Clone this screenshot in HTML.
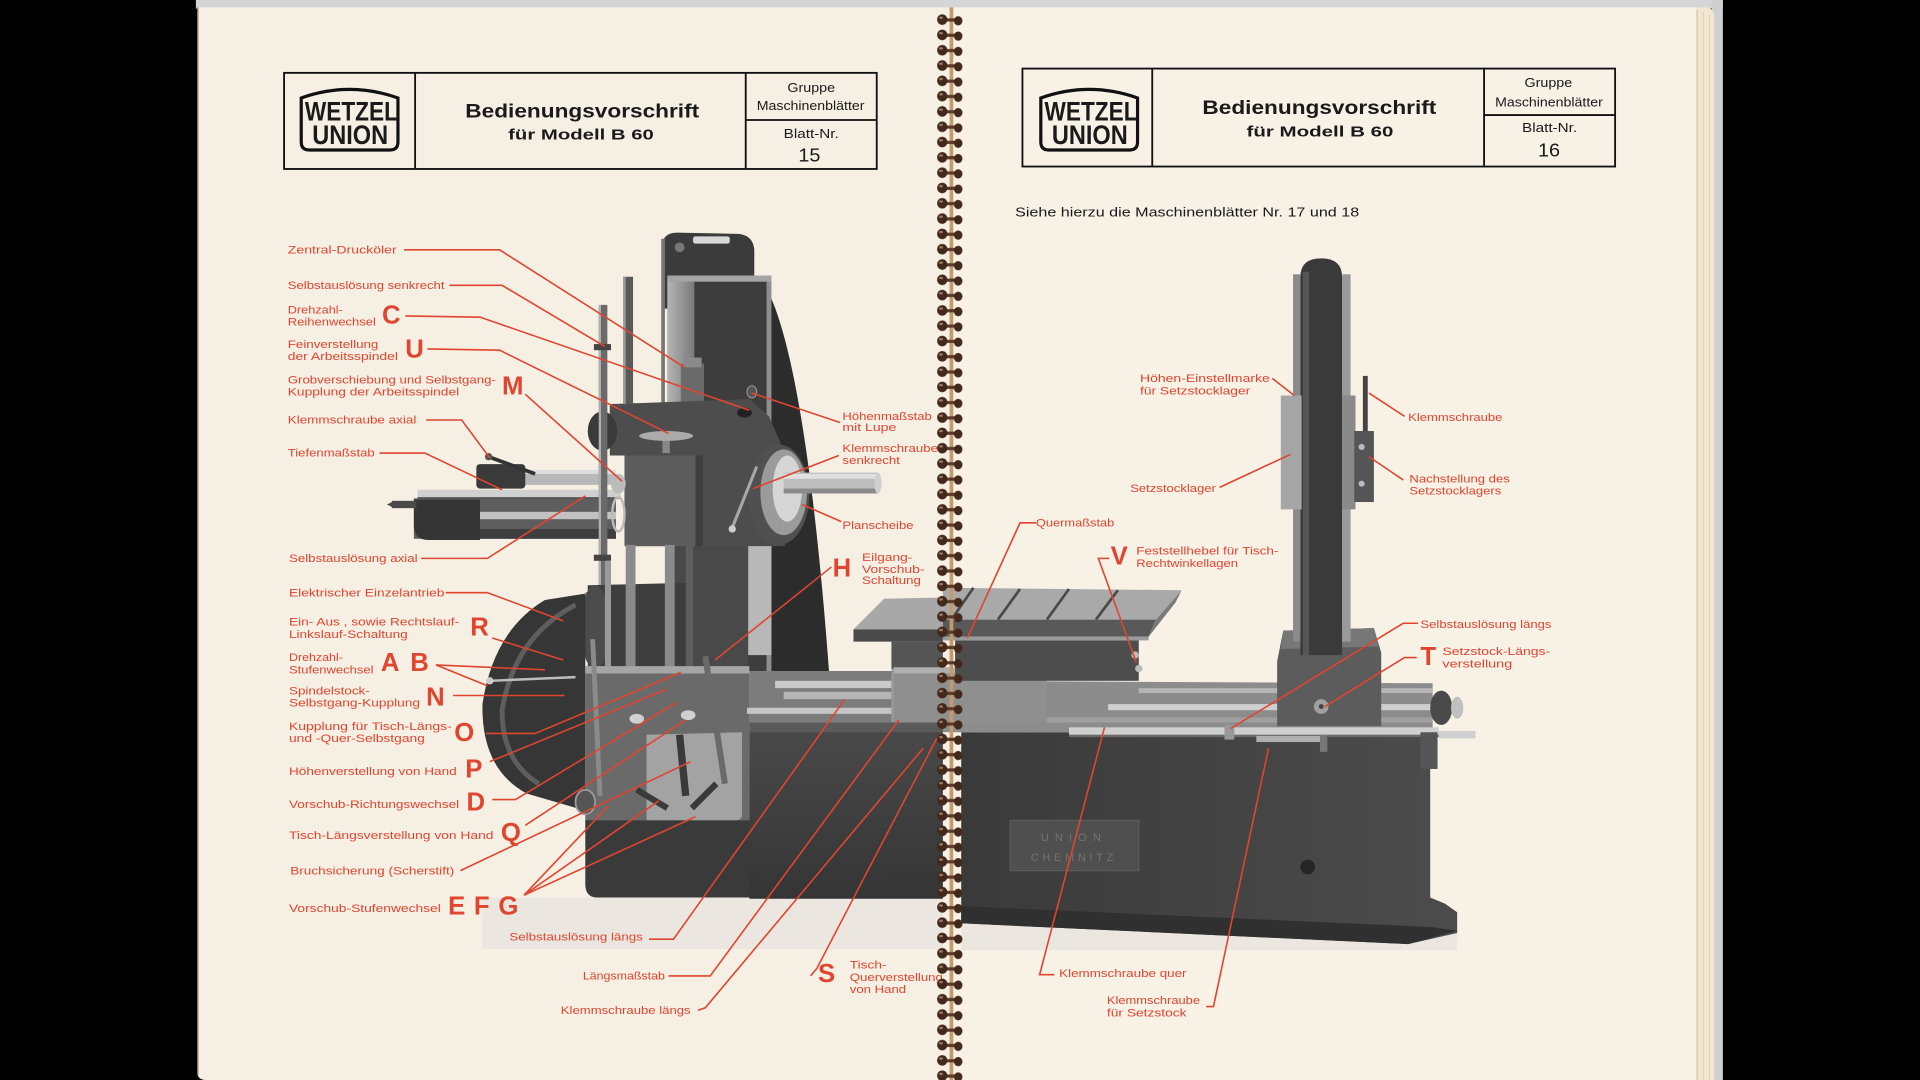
<!DOCTYPE html>
<html><head><meta charset="utf-8"><style>
html,body{margin:0;padding:0;background:#000;width:1920px;height:1080px;overflow:hidden}
svg{display:block}
.l{font-family:"Liberation Sans",sans-serif;font-size:9.3px;fill:#e0452f}
.b{font-family:"Liberation Sans",sans-serif;font-size:21px;font-weight:bold;fill:#e0452f}
.h{font-family:"Liberation Sans",sans-serif;fill:#1a1a1a}
.r{fill:none;stroke:#e0452f;stroke-width:1.3}
</style></head><body>
<svg width="1920" height="1080" viewBox="0 0 1568 882" preserveAspectRatio="none" xmlns="http://www.w3.org/2000/svg">
<defs>
<pattern id="coil" x="760" y="10" width="32" height="12.5" patternUnits="userSpaceOnUse">
<rect x="9" y="5" width="14" height="2.6" fill="#5a3a26"/>
<ellipse cx="9.5" cy="6" rx="4.2" ry="4.3" fill="#43291b"/>
<ellipse cx="22.5" cy="7" rx="3.5" ry="3.8" fill="#43291b"/>
<ellipse cx="8.5" cy="4.5" rx="1.6" ry="1" fill="#9a7a62"/>
</pattern>
<linearGradient id="gcol" x1="0" x2="1" y1="0" y2="0"><stop offset="0" stop-color="#b4b4b4"/><stop offset="1" stop-color="#7a7a7a"/></linearGradient>
<linearGradient id="gbed" x1="0" x2="1" y1="0" y2="0"><stop offset="0" stop-color="#3a3a3a"/><stop offset="1" stop-color="#4c4c4c"/></linearGradient>
<linearGradient id="gbedv" x1="0" x2="0" y1="0" y2="1"><stop offset="0" stop-color="#4a4a4a"/><stop offset="1" stop-color="#353535"/></linearGradient>
</defs>
<rect x="0" y="0" width="1568" height="882" fill="#000"/>
<rect x="160" y="0" width="1247" height="7" fill="#d5d5d8"/>
<rect x="1398" y="0" width="9" height="882" fill="#cfcfd2"/>
<path d="M161,6 L778,6 L778,882 L168,882 Q161,882 161,875 Z" fill="#f6efe3"/>
<line x1="161.5" y1="6" x2="161.5" y2="878" stroke="#8a6a50" stroke-width="1"/>
<rect x="778" y="6" width="608" height="876" fill="#f7f1e6"/>
<path d="M1385,6 L1394,6 Q1400,7 1400,14 L1400,882 L1385,882 Z" fill="#f1e6d0"/>
<line x1="1386" y1="8" x2="1386" y2="882" stroke="#c8b490" stroke-width="0.6"/>
<line x1="1391" y1="10" x2="1391" y2="882" stroke="#dccaa6" stroke-width="0.6"/>
<line x1="1396" y1="12" x2="1396" y2="882" stroke="#dccaa6" stroke-width="0.6"/>
<!-- HEADER LEFT -->
<g fill="none" stroke="#111" stroke-width="1.5">
<rect x="232" y="59.5" width="484" height="78.5"/>
<line x1="339" y1="59.5" x2="339" y2="138"/>
<line x1="609" y1="59.5" x2="609" y2="138"/>
<line x1="609" y1="98" x2="716" y2="98"/>
<path d="M246,80 Q285.5,66 325,80 L325,116 Q325,122.5 318.5,122.5 L252.5,122.5 Q246,122.5 246,116 Z" stroke-width="2.6"/>
</g>
<text class="h" x="249" y="98.5" font-size="22" font-weight="bold" textLength="76" lengthAdjust="spacingAndGlyphs">WETZEL</text>
<text class="h" x="255" y="117.5" font-size="22" font-weight="bold" textLength="62" lengthAdjust="spacingAndGlyphs">UNION</text>
<text class="h" x="380" y="96" font-size="15.5" font-weight="bold" textLength="191" lengthAdjust="spacingAndGlyphs">Bedienungsvorschrift</text>
<text class="h" x="415" y="114" font-size="12" font-weight="bold" textLength="119" lengthAdjust="spacingAndGlyphs">für Modell B 60</text>
<text class="h" x="643" y="75" font-size="10.5" textLength="39" lengthAdjust="spacingAndGlyphs">Gruppe</text>
<text class="h" x="618" y="90" font-size="10.5" textLength="88" lengthAdjust="spacingAndGlyphs">Maschinenblätter</text>
<text class="h" x="640" y="112.5" font-size="10.5" textLength="45" lengthAdjust="spacingAndGlyphs">Blatt-Nr.</text>
<text class="h" x="652" y="132" font-size="15" textLength="18" lengthAdjust="spacingAndGlyphs">15</text>
<!-- HEADER RIGHT -->
<g fill="none" stroke="#111" stroke-width="1.5">
<rect x="835" y="56" width="484" height="80"/>
<line x1="941" y1="56" x2="941" y2="136"/>
<line x1="1212" y1="56" x2="1212" y2="136"/>
<line x1="1212" y1="94" x2="1319" y2="94"/>
<path d="M850,80 Q889.5,66 929,80 L929,116 Q929,122.5 922.5,122.5 L856.5,122.5 Q850,122.5 850,116 Z" stroke-width="2.6"/>
</g>
<text class="h" x="853" y="98.5" font-size="22" font-weight="bold" textLength="76" lengthAdjust="spacingAndGlyphs">WETZEL</text>
<text class="h" x="859" y="117.5" font-size="22" font-weight="bold" textLength="62" lengthAdjust="spacingAndGlyphs">UNION</text>
<text class="h" x="982" y="93" font-size="15.5" font-weight="bold" textLength="191" lengthAdjust="spacingAndGlyphs">Bedienungsvorschrift</text>
<text class="h" x="1018" y="111.5" font-size="12" font-weight="bold" textLength="120" lengthAdjust="spacingAndGlyphs">für Modell B 60</text>
<text class="h" x="1245" y="71" font-size="10.5" textLength="39" lengthAdjust="spacingAndGlyphs">Gruppe</text>
<text class="h" x="1221" y="87" font-size="10.5" textLength="88" lengthAdjust="spacingAndGlyphs">Maschinenblätter</text>
<text class="h" x="1243" y="108" font-size="10.5" textLength="45" lengthAdjust="spacingAndGlyphs">Blatt-Nr.</text>
<text class="h" x="1256" y="128" font-size="15" textLength="18" lengthAdjust="spacingAndGlyphs">16</text>
<text class="h" x="829" y="177" font-size="10.8" textLength="281" lengthAdjust="spacingAndGlyphs">Siehe hierzu die Maschinenblätter Nr. 17 und 18</text>

<!-- LEFT MACHINE -->
<rect x="394" y="733" width="376" height="42" fill="#ebe7e0"/>
<path d="M620,226 C648,262 666,400 677,548 L600,548 L600,226 Z" fill="#2c2c2c"/>
<path d="M541,252 L541,201 Q541,190 553,190 L603,191 Q615,192 616,204 L616,235 L560,235 L550,252 Z" fill="#3b3b3b"/>
<rect x="566" y="193" width="30" height="6" rx="2" fill="#d8d8d8"/>
<circle cx="555" cy="202" r="4" fill="#777"/>
<rect x="545" y="226" width="85" height="322" fill="#8e8e8e"/>
<rect x="545" y="228" width="22" height="320" fill="url(#gcol)"/>
<rect x="567" y="230" width="59" height="318" fill="#3d3d3d"/>
<rect x="545" y="225" width="85" height="5" fill="#a4a4a4"/>
<rect x="545" y="445" width="66" height="103" fill="#494949"/>
<rect x="560" y="445" width="6" height="103" fill="#5e5e5e"/>
<rect x="611" y="440" width="19" height="95" fill="#b8b8b8"/>
<rect x="540" y="195" width="3" height="175" fill="#777"/>
<rect x="556" y="297" width="19" height="38" fill="#6a6a6a"/>
<rect x="558" y="292" width="15" height="8" fill="#8a8a8a"/>
<path d="M498,330 L612,326 L628,340 L641,370 L641,446 L510,446 L510,372 L498,372 Z" fill="#4d4d4d"/>
<rect x="510" y="372" width="58" height="74" fill="#5d5d5d"/>
<rect x="568" y="372" width="6" height="74" fill="#3e3e3e"/>
<ellipse cx="492" cy="352" rx="12" ry="16" fill="#3a3a3a"/>
<rect x="541" y="356" width="6" height="14" fill="#888"/>
<ellipse cx="544" cy="356" rx="22" ry="4" fill="#ababab"/>
<ellipse cx="608" cy="337" rx="6" ry="4" fill="#222"/>
<ellipse cx="614" cy="320" rx="4" ry="5" fill="#555" stroke="#999" stroke-width="0.8"/>
<ellipse cx="636" cy="404" rx="25" ry="41" fill="#505050"/>
<ellipse cx="640" cy="402" rx="19" ry="35" fill="#9b9b9b"/>
<ellipse cx="643" cy="399" rx="12" ry="27" fill="#d6d6d6"/>
<rect x="640" y="386" width="77" height="17" fill="#bdbdbd"/>
<rect x="640" y="387" width="77" height="4" fill="#e0e0e0"/>
<rect x="640" y="399" width="77" height="4" fill="#8a8a8a"/>
<ellipse cx="717" cy="394.5" rx="3" ry="8.5" fill="#cfcfcf"/>
<line x1="598" y1="431" x2="618" y2="381" stroke="#a8a8a8" stroke-width="2.5"/>
<circle cx="598" cy="432" r="3" fill="#ccc"/>
<rect x="338" y="407" width="165" height="33" fill="#5e5e5e"/>
<rect x="388" y="418" width="115" height="6" fill="#c2c2c2"/>
<rect x="388" y="432" width="115" height="8" fill="#3e3e3e"/>
<path d="M338,408 L392,408 L392,441 L350,441 Q338,441 338,429 Z" fill="#353535"/>
<rect x="320" y="409" width="20" height="6" fill="#4a4a4a"/>
<polygon points="316,412 322,409 322,415" fill="#4a4a4a"/>
<rect x="341" y="400" width="166" height="7" fill="#d0d0d0"/>
<rect x="341" y="406" width="166" height="1.5" fill="#555"/>
<rect x="392" y="384" width="111" height="12" fill="#b8b8b8"/>
<rect x="392" y="384" width="111" height="3" fill="#dedede"/>
<rect x="389" y="379" width="40" height="20" rx="3" fill="#3a3a3a"/>
<line x1="399" y1="373" x2="437" y2="387" stroke="#333" stroke-width="3"/>
<circle cx="399" cy="373" r="3" fill="#555"/>
<ellipse cx="505" cy="395" rx="6" ry="8" fill="#bbb"/>
<ellipse cx="505" cy="420" rx="5" ry="14" fill="none" stroke="#bbb" stroke-width="2"/>
<rect x="489" y="249" width="7" height="305" fill="#6a6a6a"/>
<rect x="489" y="249" width="1.8" height="305" fill="#b0b0b0"/>
<rect x="485" y="281" width="14" height="5" fill="#444"/>
<rect x="485" y="453" width="14" height="5" fill="#444"/>
<rect x="509" y="226" width="8" height="104" fill="#5a5a5a"/>
<rect x="509" y="226" width="2" height="104" fill="#9a9a9a"/>
<path d="M480,478 L560,476 L560,548 L480,548 Z" fill="#3e3e3e"/>
<ellipse cx="486" cy="512" rx="12" ry="34" fill="#4c4c4c"/>
<rect x="511" y="445" width="8" height="103" fill="#8a8a8a"/>
<rect x="543" y="445" width="8" height="103" fill="#8a8a8a"/>
<rect x="494" y="458" width="5" height="90" fill="#9a9a9a"/>
<path d="M483,484 L445,490 Q403,515 394,575 Q393,628 430,648 L478,662 L478,484 Z" fill="#363636"/>
<path d="M470,494 Q420,520 410,580 Q410,622 440,640" fill="none" stroke="#5e5e5e" stroke-width="4"/>
<line x1="400" y1="556" x2="470" y2="553" stroke="#bdbdbd" stroke-width="2"/>
<circle cx="400" cy="556" r="3" fill="#ccc"/>
<rect x="478" y="546" width="134" height="126" fill="#6a6a6a"/>
<rect x="478" y="544" width="134" height="6" fill="#a5a5a5"/>
<path d="M528,600 L606,598 L606,665 Q606,670 600,670 L528,670 Z" fill="#a3a3a3"/>
<line x1="484" y1="522" x2="490" y2="650" stroke="#8a8a8a" stroke-width="4"/>
<line x1="576" y1="536" x2="592" y2="640" stroke="#6a6a6a" stroke-width="5"/>
<line x1="555" y1="600" x2="560" y2="650" stroke="#3a3a3a" stroke-width="6"/>
<line x1="520" y1="645" x2="545" y2="660" stroke="#3a3a3a" stroke-width="5"/>
<line x1="565" y1="660" x2="585" y2="640" stroke="#3a3a3a" stroke-width="5"/>
<ellipse cx="520" cy="587" rx="6" ry="4" fill="#d0d0d0"/>
<ellipse cx="562" cy="584" rx="6" ry="4" fill="#d0d0d0"/>
<ellipse cx="478" cy="655" rx="8" ry="10" fill="#555" stroke="#999" stroke-width="1.5"/>
<path d="M478,670 L632,670 L632,733 L488,733 Q478,733 478,722 Z" fill="#3a3a3a"/>
<rect x="612" y="590" width="158" height="144" fill="url(#gbedv)"/>
<rect x="612" y="590" width="158" height="8" fill="#5a5a5a"/>
<rect x="612" y="548" width="158" height="42" fill="#7c7c7c"/>
<rect x="633" y="556" width="95" height="6" fill="#c9c9c9"/>
<rect x="640" y="565" width="88" height="6" fill="#b5b5b5"/>
<rect x="610" y="578" width="160" height="5" fill="#c5c5c5"/>
<rect x="728" y="545" width="42" height="45" fill="#9a9a9a"/>
<polygon points="697,514 770,514 770,488 722,489" fill="#a8a8a8"/>
<rect x="697" y="514" width="73" height="10" fill="#4a4a4a"/>
<rect x="728" y="524" width="42" height="22" fill="#555"/>

<!-- RIGHT MACHINE -->
<rect x="785" y="752" width="405" height="24" fill="#ebe7e0"/>
<polygon points="785,598 1168,598 1168,733 1180,738 1190,745 1190,762 1150,771 785,754" fill="url(#gbed)"/>
<polygon points="785,740 1168,757 1190,760 1150,771 785,754" fill="#303030"/>
<rect x="825" y="670" width="105" height="41" fill="#4f4f4f" stroke="#5c5c5c" stroke-width="1"/>
<text x="877" y="687" font-family="Liberation Sans,sans-serif" font-size="9" fill="#727272" text-anchor="middle" letter-spacing="5">UNION</text>
<text x="877" y="703" font-family="Liberation Sans,sans-serif" font-size="9" fill="#727272" text-anchor="middle" letter-spacing="3">CHEMNITZ</text>
<circle cx="1068" cy="708" r="6" fill="#262626"/>
<polygon points="770,556 1170,558 1170,598 770,598" fill="#8c8c8c"/>
<rect x="905" y="575" width="265" height="5" fill="#cfcfcf"/>
<rect x="770" y="586" width="400" height="4" fill="#a0a0a0"/>
<rect x="930" y="562" width="240" height="4" fill="#b5b5b5"/>
<rect x="730" y="545" width="125" height="45" fill="#8f8f8f"/>
<rect x="730" y="545" width="125" height="5" fill="#b0b0b0"/>
<rect x="873" y="594" width="302" height="7" fill="#cfcfcf"/>
<rect x="873" y="600" width="302" height="2" fill="#6a6a6a"/>
<rect x="1175" y="597" width="30" height="6" fill="#d0d0d0"/>
<rect x="1026" y="601" width="57" height="5" fill="#b0b0b0"/>
<rect x="1078" y="600" width="6" height="14" fill="#777"/>
<rect x="1000" y="592" width="8" height="12" fill="#999"/>
<ellipse cx="1177" cy="578" rx="9" ry="14" fill="#4a4a4a"/>
<ellipse cx="1190" cy="578" rx="5" ry="9" fill="#c0c0c0"/>
<rect x="1160" y="598" width="14" height="30" fill="#555"/>
<rect x="780" y="523" width="150" height="33" fill="#4d4d4d"/>
<polygon points="770,480 965,482 944,506 770,506" fill="#a9a9a9"/>
<g stroke="#4a4a4a" stroke-width="2.2">
<line x1="795" y1="480" x2="777" y2="506"/>
<line x1="833" y1="481" x2="815" y2="506"/>
<line x1="873" y1="481" x2="855" y2="506"/>
<line x1="913" y1="482" x2="895" y2="506"/>
</g>
<polygon points="770,506 944,506 938,520 770,520" fill="#595959"/>
<polygon points="965,482 944,506 938,520 960,492" fill="#7a7a7a"/>
<rect x="770" y="520" width="168" height="3" fill="#9a9a9a"/>
<circle cx="927" cy="535" r="3" fill="#bbb"/>
<circle cx="930" cy="546" r="3" fill="#bbb"/>
<polygon points="1048,515 1122,513 1128,533 1128,593 1043,593 1043,540" fill="#5c5c5c"/>
<polygon points="1048,515 1122,513 1126,528 1046,530" fill="#777"/>
<circle cx="1079" cy="577" r="6" fill="#a0a0a0"/>
<circle cx="1079" cy="577" r="2" fill="#444"/>
<rect x="1056" y="224" width="6" height="300" fill="#8a8a8a"/>
<rect x="1096" y="224" width="7" height="300" fill="#9a9a9a"/>
<path d="M1062,535 L1062,226 Q1062,211 1079,211 Q1096,211 1096,226 L1096,535 Z" fill="#3a3a3a"/>
<rect x="1064" y="222" width="5" height="313" fill="#565656"/>
<rect x="1046" y="323" width="17" height="93" fill="#a6a6a6"/>
<rect x="1096" y="323" width="11" height="93" fill="#8a8a8a"/>
<rect x="1113" y="307" width="4" height="50" fill="#444"/>
<rect x="1106" y="352" width="16" height="58" fill="#555"/>
<circle cx="1112" cy="365" r="2.5" fill="#bbb"/>
<circle cx="1112" cy="395" r="2.5" fill="#bbb"/>

<!-- LEADER LINES -->
<g class="r">
<polyline points="330,204 408,204 559,300"/>
<polyline points="367,233 410,233 494,283"/>
<polyline points="331,258 392,259 612,335"/>
<polyline points="349,285 408,286 546,354"/>
<polyline points="429,322 508,393"/>
<polyline points="348,343 377,343 400,374"/>
<polyline points="310,370 347,370 410,400"/>
<polyline points="344,456 398,456 478,405"/>
<polyline points="364,484 398,484 460,507"/>
<polyline points="402,521 460,539"/>
<polyline points="356,543 445,547"/>
<polyline points="356,543 398,560"/>
<polyline points="370,568 461,568"/>
<polyline points="397,599 437,599 556,549"/>
<polyline points="400,622 544,563"/>
<polyline points="402,653 421,653 552,574"/>
<polyline points="429,674 560,588"/>
<polyline points="376,711 564,622"/>
<polyline points="428,731 497,658"/>
<polyline points="428,731 538,654"/>
<polyline points="428,731 568,667"/>
<polyline points="530,767 550,767 690,571"/>
<polyline points="546,797 580,797 734,588"/>
<polyline points="570,825 576,823 754,611"/>
<polyline points="662,797 667,791 765,603"/>
<polyline points="679,463 584,539"/>
<polyline points="686,345 614,321"/>
<polyline points="685,372 615,399"/>
<polyline points="687,426 655,412"/>
<polyline points="846,427 833,427 790,521"/>
<polyline points="906,456 897,456 928,541"/>
<polyline points="1039,309 1057,323"/>
<polyline points="1147,340 1118,321"/>
<polyline points="1146,392 1118,373"/>
<polyline points="996,398 1054,371"/>
<polyline points="1158,509 1146,509 1005,595"/>
<polyline points="1157,537 1147,537 1082,577"/>
<polyline points="861,796 849,796 902,594"/>
<polyline points="985,822 991,822 1036,611"/>
</g>

<!-- LABELS -->
<text class="l" x="235" y="207" textLength="89" lengthAdjust="spacingAndGlyphs">Zentral-Drucköler</text>
<text class="l" x="235" y="236" textLength="128" lengthAdjust="spacingAndGlyphs">Selbstauslösung senkrecht</text>
<text class="l" x="235" y="256" textLength="45" lengthAdjust="spacingAndGlyphs">Drehzahl-</text>
<text class="l" x="235" y="266" textLength="72" lengthAdjust="spacingAndGlyphs">Reihenwechsel</text>
<text class="l" x="235" y="284" textLength="74" lengthAdjust="spacingAndGlyphs">Feinverstellung</text>
<text class="l" x="235" y="294" textLength="90" lengthAdjust="spacingAndGlyphs">der Arbeitsspindel</text>
<text class="l" x="235" y="313" textLength="170" lengthAdjust="spacingAndGlyphs">Grobverschiebung und Selbstgang-</text>
<text class="l" x="235" y="323" textLength="140" lengthAdjust="spacingAndGlyphs">Kupplung der Arbeitsspindel</text>
<text class="l" x="235" y="346" textLength="105" lengthAdjust="spacingAndGlyphs">Klemmschraube axial</text>
<text class="l" x="235" y="373" textLength="71" lengthAdjust="spacingAndGlyphs">Tiefenmaßstab</text>
<text class="l" x="236" y="459" textLength="105" lengthAdjust="spacingAndGlyphs">Selbstauslösung axial</text>
<text class="l" x="236" y="487" textLength="127" lengthAdjust="spacingAndGlyphs">Elektrischer Einzelantrieb</text>
<text class="l" x="236" y="511" textLength="139" lengthAdjust="spacingAndGlyphs">Ein-  Aus , sowie Rechtslauf-</text>
<text class="l" x="236" y="521" textLength="97" lengthAdjust="spacingAndGlyphs">Linkslauf-Schaltung</text>
<text class="l" x="236" y="540" textLength="44" lengthAdjust="spacingAndGlyphs">Drehzahl-</text>
<text class="l" x="236" y="550" textLength="69" lengthAdjust="spacingAndGlyphs">Stufenwechsel</text>
<text class="l" x="236" y="567" textLength="66" lengthAdjust="spacingAndGlyphs">Spindelstock-</text>
<text class="l" x="236" y="577" textLength="107" lengthAdjust="spacingAndGlyphs">Selbstgang-Kupplung</text>
<text class="l" x="236" y="596" textLength="133" lengthAdjust="spacingAndGlyphs">Kupplung für Tisch-Längs-</text>
<text class="l" x="236" y="606" textLength="111" lengthAdjust="spacingAndGlyphs">und -Quer-Selbstgang</text>
<text class="l" x="236" y="633" textLength="137" lengthAdjust="spacingAndGlyphs">Höhenverstellung von Hand</text>
<text class="l" x="236" y="660" textLength="139" lengthAdjust="spacingAndGlyphs">Vorschub-Richtungswechsel</text>
<text class="l" x="236" y="685" textLength="167" lengthAdjust="spacingAndGlyphs">Tisch-Längsverstellung von Hand</text>
<text class="l" x="237" y="714" textLength="134" lengthAdjust="spacingAndGlyphs">Bruchsicherung (Scherstift)</text>
<text class="l" x="236" y="745" textLength="124" lengthAdjust="spacingAndGlyphs">Vorschub-Stufenwechsel</text>
<text class="l" x="416" y="768" textLength="109" lengthAdjust="spacingAndGlyphs">Selbstauslösung längs</text>
<text class="l" x="476" y="800" textLength="67" lengthAdjust="spacingAndGlyphs">Längsmaßstab</text>
<text class="l" x="458" y="828" textLength="106" lengthAdjust="spacingAndGlyphs">Klemmschraube längs</text>
<text class="l" x="694" y="791" textLength="30" lengthAdjust="spacingAndGlyphs">Tisch-</text>
<text class="l" x="694" y="801" textLength="76" lengthAdjust="spacingAndGlyphs">Querverstellung</text>
<text class="l" x="694" y="811" textLength="46" lengthAdjust="spacingAndGlyphs">von Hand</text>
<text class="l" x="704" y="458" textLength="41" lengthAdjust="spacingAndGlyphs">Eilgang-</text>
<text class="l" x="704" y="468" textLength="51" lengthAdjust="spacingAndGlyphs">Vorschub-</text>
<text class="l" x="704" y="477" textLength="48" lengthAdjust="spacingAndGlyphs">Schaltung</text>
<text class="l" x="688" y="343" textLength="73" lengthAdjust="spacingAndGlyphs">Höhenmaßstab</text>
<text class="l" x="688" y="352" textLength="44" lengthAdjust="spacingAndGlyphs">mit Lupe</text>
<text class="l" x="688" y="369" textLength="78" lengthAdjust="spacingAndGlyphs">Klemmschraube</text>
<text class="l" x="688" y="379" textLength="47" lengthAdjust="spacingAndGlyphs">senkrecht</text>
<text class="l" x="688" y="432" textLength="58" lengthAdjust="spacingAndGlyphs">Planscheibe</text>
<text class="l" x="846" y="430" textLength="64" lengthAdjust="spacingAndGlyphs">Quermaßstab</text>
<text class="l" x="928" y="453" textLength="116" lengthAdjust="spacingAndGlyphs">Feststellhebel für Tisch-</text>
<text class="l" x="928" y="463" textLength="83" lengthAdjust="spacingAndGlyphs">Rechtwinkellagen</text>
<text class="l" x="931" y="312" textLength="106" lengthAdjust="spacingAndGlyphs">Höhen-Einstellmarke</text>
<text class="l" x="931" y="322" textLength="90" lengthAdjust="spacingAndGlyphs">für Setzstocklager</text>
<text class="l" x="1150" y="344" textLength="77" lengthAdjust="spacingAndGlyphs">Klemmschraube</text>
<text class="l" x="1151" y="394" textLength="82" lengthAdjust="spacingAndGlyphs">Nachstellung des</text>
<text class="l" x="1151" y="404" textLength="75" lengthAdjust="spacingAndGlyphs">Setzstocklagers</text>
<text class="l" x="923" y="402" textLength="70" lengthAdjust="spacingAndGlyphs">Setzstocklager</text>
<text class="l" x="1160" y="513" textLength="107" lengthAdjust="spacingAndGlyphs">Selbstauslösung längs</text>
<text class="l" x="1178" y="535" textLength="88" lengthAdjust="spacingAndGlyphs">Setzstock-Längs-</text>
<text class="l" x="1178" y="545" textLength="57" lengthAdjust="spacingAndGlyphs">verstellung</text>
<text class="l" x="865" y="798" textLength="104" lengthAdjust="spacingAndGlyphs">Klemmschraube quer</text>
<text class="l" x="904" y="820" textLength="76" lengthAdjust="spacingAndGlyphs">Klemmschraube</text>
<text class="l" x="904" y="830" textLength="65" lengthAdjust="spacingAndGlyphs">für Setzstock</text>
<text class="b" x="312" y="264">C</text>
<text class="b" x="331" y="292">U</text>
<text class="b" x="410" y="322">M</text>
<text class="b" x="384" y="519">R</text>
<text class="b" x="311" y="548">A</text>
<text class="b" x="335" y="548">B</text>
<text class="b" x="348" y="576">N</text>
<text class="b" x="371" y="605">O</text>
<text class="b" x="380" y="635">P</text>
<text class="b" x="381" y="662">D</text>
<text class="b" x="409" y="687">Q</text>
<text class="b" x="366" y="747">E</text>
<text class="b" x="387" y="747">F</text>
<text class="b" x="407" y="747">G</text>
<text class="b" x="668" y="802">S</text>
<text class="b" x="680" y="471">H</text>
<text class="b" x="907" y="461">V</text>
<text class="b" x="1160" y="543">T</text>

<!-- spiral binding -->
<rect x="775.5" y="6" width="3" height="876" fill="#c29a6c"/>
<rect x="760" y="10" width="32" height="872" fill="url(#coil)"/>
</svg>
</body></html>
